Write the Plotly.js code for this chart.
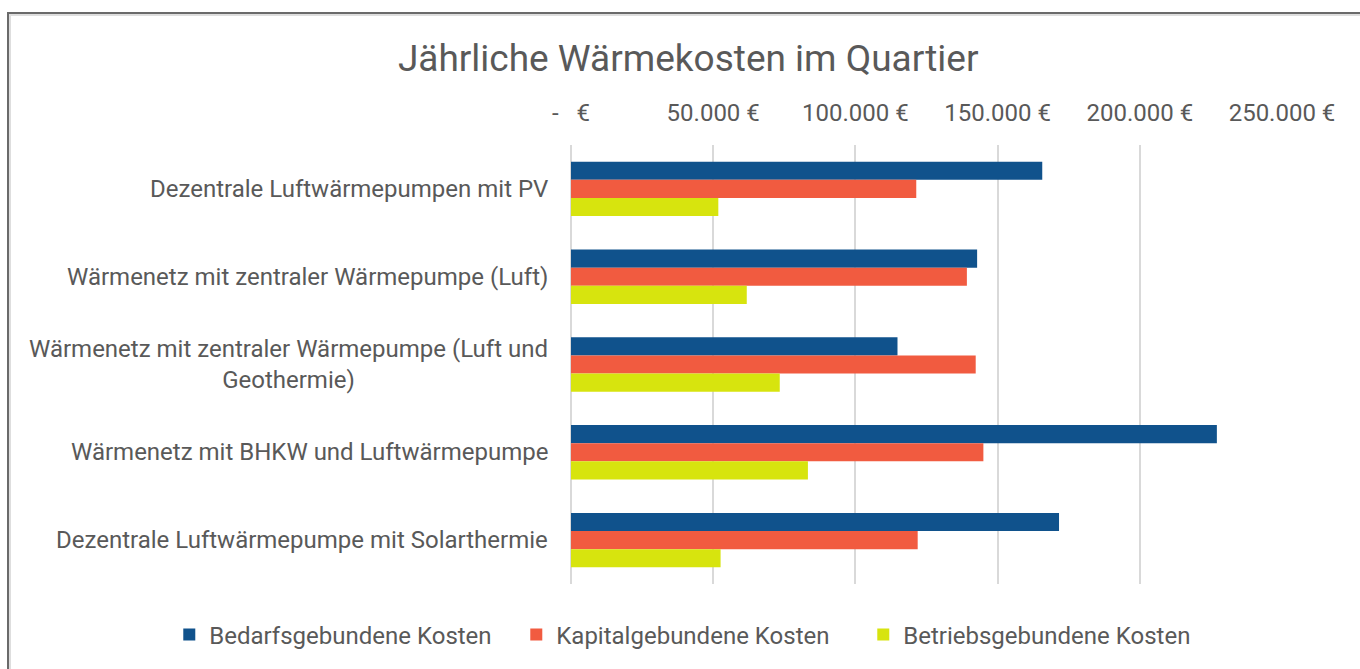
<!DOCTYPE html>
<html>
<head>
<meta charset="utf-8">
<script src="https://cdn.plot.ly/plotly-3.0.1.min.js"></script>
<style>
  html, body { margin: 0; padding: 0; background: #fff; }
  #wrap { position: relative; width: 1360px; height: 669px; overflow: hidden; }
  #chart { width: 1360px; height: 669px; }
  #frame { position: absolute; left: 7px; top: 12px; width: 1400px; height: 700px;
           border: 2px solid #6a6a6a; box-shadow: inset 2px 2px 0 #dedede; pointer-events: none; }
</style>
</head>
<body>
<div id="wrap">
  <div id="chart"></div>
  <div id="frame"></div>
</div>
<script>
const categories = [
  "Dezentrale Luftwärmepumpen mit PV",
  "Wärmenetz mit zentraler Wärmepumpe (Luft)",
  "Wärmenetz mit zentraler Wärmepumpe (Luft und<br>Geothermie)",
  "Wärmenetz mit BHKW und Luftwärmepumpe",
  "Dezentrale Luftwärmepumpe mit Solarthermie"
];
const seriesNames = ["Bedarfsgebundene Kosten", "Kapitalgebundene Kosten", "Betriebsgebundene Kosten"];
const bedarf  = [165700, 142800, 114800, 227100, 171600];
const kapital = [121400, 139200, 142300, 145000, 121900];
const betrieb = [51800, 61800, 73400, 83300, 52600];
const tickVals = [0, 50000, 100000, 150000, 200000, 250000];
const tickText = ["-\u00a0\u00a0\u00a0€", "50.000 €", "100.000 €", "150.000 €", "200.000 €", "250.000 €"];
const colors = ["#10528C", "#F15B40", "#D7E40E"];

const txt = "#595959";
const font = "Roboto, 'Open Sans', sans-serif";
const values = [bedarf, kapital, betrieb];

const data = values.map((v, i) => ({
  type: "bar",
  orientation: "h",
  name: seriesNames[i],
  y: categories,
  x: v,
  marker: { color: colors[i], line: { width: 0 } },
  hoverinfo: "x+name"
}));

const annotations = categories.map(c => ({
  xref: "x", yref: "y", x: 0, y: c,
  text: c, showarrow: false,
  xanchor: "right", yanchor: "middle", align: "center",
  xshift: -21,
  font: { family: font, size: 24, color: txt }
}));

const layout = {
  width: 1360, height: 669,
  margin: { l: 571, r: 78, t: 145, b: 85 },
  paper_bgcolor: "#fff", plot_bgcolor: "#fff",
  font: { family: font, color: txt, size: 24 },
  title: {
    text: "Jährliche Wärmekosten im Quartier",
    font: { family: font, size: 37, color: txt },
    xref: "container", yref: "container",
    x: 0.506, y: 0.913, xanchor: "center", yanchor: "middle"
  },
  barmode: "group",
  bargap: 0.38,
  bargroupgap: 0,
  xaxis: {
    side: "top",
    range: [0, 250000],
    tickvals: tickVals, ticktext: tickText,
    showgrid: true, gridcolor: "#d9d9d9", gridwidth: 1.5,
    zeroline: true, zerolinecolor: "#d9d9d9", zerolinewidth: 1.5,
    showline: false, ticks: "",
    ticklabelstandoff: 18,
    tickfont: { family: font, size: 24, color: txt },
    fixedrange: true
  },
  yaxis: {
    autorange: "reversed",
    showticklabels: false,
    showgrid: false, zeroline: false, showline: false, ticks: "",
    fixedrange: true
  },
  showlegend: true,
  legend: {
    orientation: "h",
    xref: "paper", yref: "paper",
    x: -0.565, y: -0.116, xanchor: "left", yanchor: "middle",
    entrywidth: 302, entrywidthmode: "pixels",
    font: { family: font, size: 24, color: txt },
    itemclick: false, itemdoubleclick: false,
    traceorder: "normal"
  },
  annotations: annotations
};

Plotly.newPlot("chart", data, layout, { displayModeBar: false, staticPlot: false });
</script>
</body>
</html>
